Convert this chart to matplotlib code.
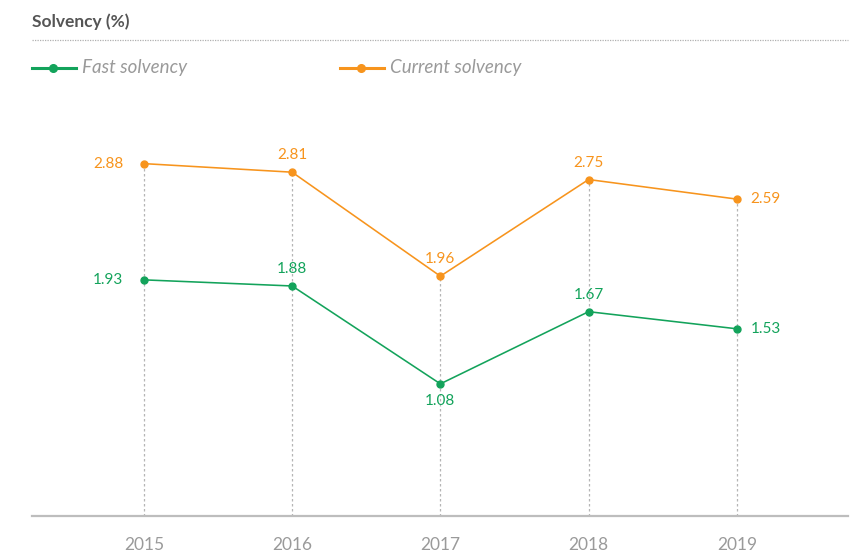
import matplotlib.pyplot as plt
from matplotlib.lines import Line2D

plt.rcParams['font.family'] = ['Lato', 'DejaVu Sans']

years = ['2015', '2016', '2017', '2018', '2019']
fast_solvency = [1.93, 1.88, 1.08, 1.67, 1.53]
current_solvency = [2.88, 2.81, 1.96, 2.75, 2.59]
# where each value label sits relative to its point
fast_pos = ['left', 'above', 'below', 'above', 'right']
current_pos = ['left', 'above', 'above', 'above', 'right']

green = '#13a35b'
orange = '#f7941d'

fig = plt.figure(figsize=(8.65, 5.52), dpi=100)
ax = fig.add_axes([32 / 865, 36 / 552, 816 / 865, 416 / 552])

x = list(range(len(years)))

# dotted drop lines from the top point down to the axis
for i in x:
    top = max(fast_solvency[i], current_solvency[i])
    ax.plot([i, i], [0, top], color='#b5b5b5', lw=0.9, ls=(0, (2, 2)), zorder=1)

ax.plot(x, fast_solvency, color=green, lw=1.15, marker='o', ms=5, zorder=3)
ax.plot(x, current_solvency, color=orange, lw=1.15, marker='o', ms=5, zorder=3)

offsets = {'left': (-15, 0, 'right', 'center'),
           'right': (10, 0, 'left', 'center'),
           'above': (0, 7, 'center', 'bottom'),
           'below': (0, -7, 'center', 'top')}

for vals, poss, col in [(fast_solvency, fast_pos, green), (current_solvency, current_pos, orange)]:
    for i, (v, p) in enumerate(zip(vals, poss)):
        dx, dy, ha, va = offsets[p]
        ax.annotate(f'{v:.2f}', (i, v), xytext=(dx, dy), textcoords='offset points',
                    ha=ha, va=va, color=col, fontsize=11)

ax.set_xlim(-0.755, 4.75)
ax.set_ylim(0, 3.4)
ax.set_xticks(x)
ax.set_xticklabels(years)
ax.set_yticks([])
for s in ['top', 'right', 'left']:
    ax.spines[s].set_visible(False)
ax.spines['bottom'].set_color('#bdbdbd')
ax.spines['bottom'].set_linewidth(1.6)
ax.tick_params(axis='x', length=0, pad=15, labelsize=12.5, labelcolor='#9a9a9a')

# title and dotted rule
fig.text(32 / 865, 1 - 22 / 552, 'Solvency (%)', fontsize=12.5, fontweight='bold',
         color='#555555', va='center', ha='left')
fig.add_artist(Line2D([32 / 865, 848 / 865], [1 - 40 / 552, 1 - 40 / 552],
                      color='#b0b0b0', lw=0.9, ls=(0, (1, 1))))

# legend
for x0, col, label in [(32, green, 'Fast solvency'), (340, orange, 'Current solvency')]:
    yy = 1 - 68 / 552
    fig.add_artist(Line2D([x0 / 865, (x0 + 44) / 865], [yy, yy], color=col, lw=2.2))
    fig.add_artist(Line2D([(x0 + 21) / 865], [yy], color=col, marker='o', ms=5.5))
    fig.text((x0 + 50) / 865, yy, label, fontsize=13.5, style='italic',
             color='#9a9a9a', va='center', ha='left')

plt.savefig('out.png', dpi=100)
plt.close()
